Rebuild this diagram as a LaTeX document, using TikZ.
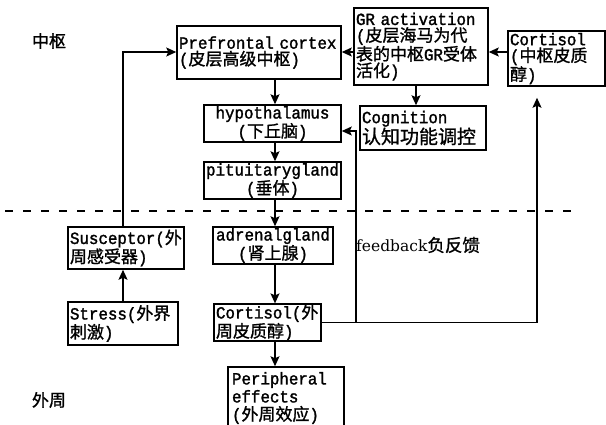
\documentclass[tikz,border=0pt]{standalone}
\usepackage{fontspec}
\setmonofont[FakeStretch=0.93, FakeBold=1.6]{Liberation Mono}
\newfontfamily\cjk[Scale=1.0, FakeBold=1.2]{Noto Sans CJK SC}
\newfontfamily\fbfont{DejaVu Serif}
\usetikzlibrary{arrows.meta}
\newcommand{\zh}[1]{{\cjk #1}}
\begin{document}
\begin{tikzpicture}[x=1pt,y=-1pt,
  box/.style={draw, line width=1.5pt, inner xsep=2pt, inner ysep=0pt,
    font=\ttfamily\fontsize{17}{16.5}\selectfont},
  lbox/.style={box, align=left},
  cbox/.style={box, align=center},
  arr/.style={line width=1.4pt, -{Stealth[length=10pt,width=9pt,inset=2pt]}},
  lbl/.style={font=\cjk\fontsize{17}{17}\selectfont, inner sep=0pt},
  dl/.style={line width=1.8pt, dash pattern=on 8pt off 10pt}
  ]
\useasboundingbox (0,0) rectangle (606,424);

% labels
\node[lbl] (zs) at (49,41) {中枢};
\node[lbl] (wz) at (49,400) {外周};

% boxes
\node[lbox, text width=160pt, minimum height=53pt] (pfc) at (259,52.5)
  {\mbox{Prefrontal cortex}\\(\zh{皮层高级中枢})};
\node[lbox, text width=130pt, minimum height=77pt] (gr) at (421,46.5)
  {\mbox{GR activation}\\(\zh{皮层海马为代}\\\zh{表的中枢}GR\zh{受体}\\\zh{活化})};
\node[lbox, text width=93pt, minimum height=55pt] (cc) at (556.5,58.5)
  {Cortisol\\(\zh{中枢皮质}\\\zh{醇})};
\node[cbox, text width=133pt, minimum height=37pt] (hyp) at (272.5,123.5)
  {hypothalamus\\(\zh{下丘脑})};
\node[lbox, text width=122pt, minimum height=44pt] (cog) at (423,128)
  {Cognition\\{\cjk\fontsize{19}{17}\selectfont 认知功能调控}};
\node[cbox, text width=133pt, minimum height=37pt] (pit) at (272.5,180.5)
  {pituitarygland\\(\zh{垂体})};
\node[lbox, text width=112pt, minimum height=42pt] (sus) at (126,248)
  {Susceptor(\zh{外}\\\zh{周感受器})};
\node[lbox, text width=106pt, minimum height=43pt] (stress) at (123,323.5)
  {Stress(\zh{外界}\\\zh{刺激})};
\node[cbox, text width=116pt, minimum height=37pt] (adr) at (273,245.5)
  {adrenalgland\\(\zh{肾上腺})};
\node[lbox, text width=103pt, minimum height=35pt] (cp) at (267.5,322.5)
  {Cortisol(\zh{外}\\\zh{周皮质醇})};
\node[lbox, text width=108pt, minimum height=62pt, inner xsep=4pt,
  font=\ttfamily\fontsize{17}{18}\selectfont] (pe) at (286,398)
  {Peripheral\\effects\\(\zh{外周效应})};

% feedback label
\node[anchor=west, inner sep=0pt, font=\fbfont\fontsize{15.5}{16}\selectfont] (fb) at (356,245)
  {feedback{\cjk\fontsize{17.5}{16}\selectfont 负反馈}};

% dashed divider
\coordinate (dla) at (5,211);
\coordinate (dlb) at (580,211);
\draw[dl] (dla) -- (dlb);

% helper coordinates
\coordinate (spine) at (275,0);
\coordinate (grx) at (416,0);
\coordinate (fbx) at (537,0);
\coordinate (fbtop) at (356,131);
\coordinate (hline) at (0,52);

% main chain
\draw[arr] (pfc.south -| spine) -- (hyp.north -| spine);
\draw[arr] (hyp.south -| spine) -- (pit.north -| spine);
\draw[arr] (pit.south -| spine) -- (adr.north -| spine);
\draw[arr] (adr.south -| spine) -- (cp.north -| spine);
\draw[arr] (cp.south -| spine) -- (pe.north -| spine);

% stress path
\draw[arr] (stress.north) -- (stress.north |- sus.south);
\draw[arr] (stress.north |- sus.north) |- (pfc.west |- hline);

% central cortisol path
\draw[arr] (cc.west |- hline) -- (gr.east |- hline);
\draw[arr] (gr.west |- hline) -- (pfc.east |- hline);
\draw[arr] (gr.south -| grx) -- (cog.north -| grx);

% feedback
\draw[arr, shorten >=11pt] (cp.east) -| (cc.south -| fbx);
\draw[arr] (cp.east -| fbtop) -- (fbtop) -- (hyp.east |- fbtop);
\end{tikzpicture}
\end{document}
